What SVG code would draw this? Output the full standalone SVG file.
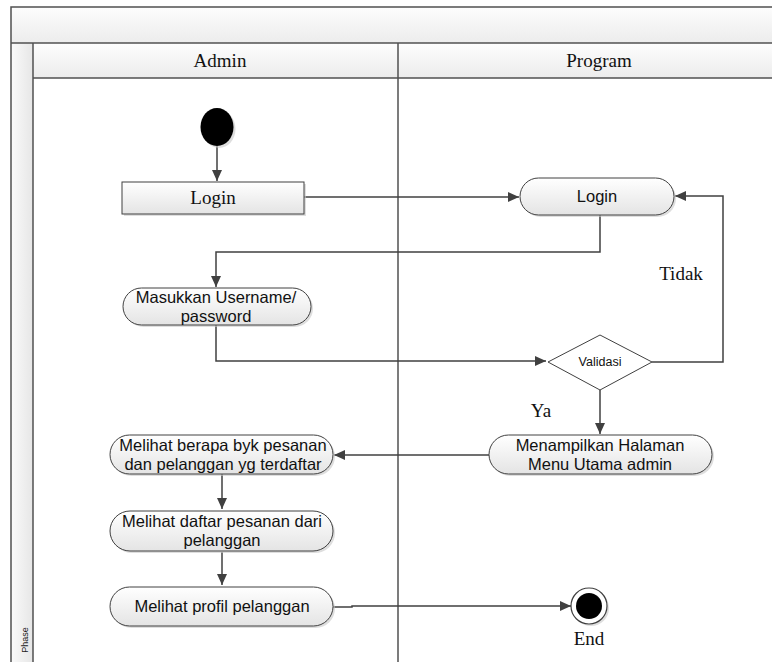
<svg xmlns="http://www.w3.org/2000/svg" width="772" height="662" viewBox="0 0 772 662">
<defs>
  <linearGradient id="gNode" x1="0" y1="0" x2="0" y2="1">
    <stop offset="0" stop-color="#ffffff"/>
    <stop offset="1" stop-color="#e4e4e4"/>
  </linearGradient>
  <linearGradient id="gBand" x1="0" y1="0" x2="0" y2="1">
    <stop offset="0" stop-color="#fdfdfd"/>
    <stop offset="1" stop-color="#ececec"/>
  </linearGradient>
  <linearGradient id="gPhase" x1="0" y1="0" x2="1" y2="0">
    <stop offset="0" stop-color="#fafafa"/>
    <stop offset="1" stop-color="#e6e6e6"/>
  </linearGradient>
  <marker id="arr" markerUnits="userSpaceOnUse" markerWidth="12" markerHeight="10" refX="11" refY="5" orient="auto">
    <path d="M0,0 L11,5 L0,10 Z" fill="#404040"/>
  </marker>
</defs>
<style>
  .frame { fill: none; stroke: #505050; stroke-width: 1.5; }
  .node { fill: url(#gNode); stroke: #404040; stroke-width: 1; }
  .shadow { fill: #c8c8c8; opacity: 0.6; }
  .conn { fill: none; stroke: #404040; stroke-width: 1.5; marker-end: url(#arr); }
  .connp { fill: none; stroke: #404040; stroke-width: 1.5; }
  .serif { font-family: "Liberation Serif", "Times New Roman", serif; font-size: 19px; fill: #111; text-anchor: middle; }
  .sans { font-family: "Liberation Sans", Arial, sans-serif; font-size: 16.5px; fill: #111; text-anchor: middle; }
</style>

<g id="swimlane">
  <rect x="11" y="7" width="770" height="36" fill="url(#gBand)"/>
  <rect x="33" y="43" width="750" height="35" fill="url(#gBand)"/>
  <rect x="11" y="43" width="22" height="630" fill="url(#gPhase)"/>
  <rect x="33" y="78" width="750" height="590" fill="#ffffff"/>
  <path class="frame" d="M772,7 L11,7 L11,662"/>
  <path class="frame" d="M11,43 L772,43"/>
  <path class="frame" d="M33,78 L772,78"/>
  <path class="frame" d="M33,43 L33,662"/>
  <path class="frame" d="M398,43 L398,662"/>
  <text class="serif" x="220" y="67">Admin</text>
  <text class="serif" x="599" y="67">Program</text>
  <text x="0" y="0" transform="translate(28,640) rotate(-90)" font-family="Liberation Sans, Arial, sans-serif" font-size="9" fill="#222" text-anchor="middle">Phase</text>
</g>

<g id="connectors">
  <path class="conn" d="M217,146 L217,181"/>
  <path class="conn" d="M304,197 L519,197"/>
  <path class="conn" d="M600,215 L600,252 L216,252 L216,287"/>
  <path class="conn" d="M216,325 L216,361 L546,361"/>
  <path class="conn" d="M652,362 L723,362 L723,196 L675,196"/>
  <path class="conn" d="M600,390 L600,434"/>
  <path class="conn" d="M489,455 L334,455"/>
  <path class="conn" d="M222,474 L222,509"/>
  <path class="conn" d="M222,552 L222,585"/>
  <path class="conn" d="M333,607 L352,607 L352,606 L571,606"/>
  <text class="serif" x="681" y="280">Tidak</text>
  <text class="serif" x="541" y="417">Ya</text>
</g>

<g id="start">
  <ellipse cx="219" cy="129" rx="16.5" ry="19" class="shadow"/>
  <ellipse cx="217" cy="127" rx="16.5" ry="19" fill="#000"/>
</g>

<g id="login-admin">
  <rect x="124" y="184" width="182" height="32" class="shadow"/>
  <rect x="122" y="182" width="182" height="32" class="node"/>
  <text class="serif" x="213" y="204">Login</text>
</g>

<g id="login-program">
  <rect x="522" y="180" width="154" height="37" rx="18.5" class="shadow"/>
  <rect x="520" y="178" width="154" height="37" rx="18.5" class="node"/>
  <text class="sans" x="597" y="202">Login</text>
</g>

<g id="masukkan">
  <rect x="125" y="290" width="188" height="37" rx="18.5" class="shadow"/>
  <rect x="123" y="288" width="188" height="37" rx="18.5" class="node"/>
  <text class="sans" x="216" y="303">Masukkan Username/</text>
  <text class="sans" x="216" y="322">password</text>
</g>

<g id="validasi">
  <path d="M548,362 L600,335 L652,362 L600,390 Z" fill="#ffffff" stroke="#404040" stroke-width="1"/>
  <text x="600" y="366" font-family="Liberation Sans, Arial, sans-serif" font-size="12.5" fill="#111" text-anchor="middle">Validasi</text>
</g>

<g id="menampilkan">
  <rect x="491" y="437" width="223" height="39" rx="19.5" class="shadow"/>
  <rect x="489" y="435" width="223" height="39" rx="19.5" class="node"/>
  <text class="sans" x="600" y="451">Menampilkan Halaman</text>
  <text class="sans" x="600" y="470">Menu Utama admin</text>
</g>

<g id="melihat-berapa">
  <rect x="112" y="437" width="223" height="39" rx="19.5" class="shadow"/>
  <rect x="110" y="435" width="223" height="39" rx="19.5" class="node"/>
  <text class="sans" x="223" y="451">Melihat berapa byk pesanan</text>
  <text class="sans" x="223" y="470">dan pelanggan yg terdaftar</text>
</g>

<g id="melihat-daftar">
  <rect x="112" y="513" width="223" height="40" rx="20" class="shadow"/>
  <rect x="110" y="511" width="223" height="40" rx="20" class="node"/>
  <text class="sans" x="222" y="527">Melihat daftar pesanan dari</text>
  <text class="sans" x="222" y="546">pelanggan</text>
</g>

<g id="melihat-profil">
  <rect x="112" y="589" width="223" height="39" rx="19.5" class="shadow"/>
  <rect x="110" y="587" width="223" height="39" rx="19.5" class="node"/>
  <text class="sans" x="222" y="612">Melihat profil pelanggan</text>
</g>

<g id="end">
  <circle cx="591" cy="608" r="18" class="shadow"/>
  <circle cx="589" cy="606" r="18" fill="#ffffff" stroke="#404040" stroke-width="1.2"/>
  <circle cx="589" cy="606" r="13" fill="#000"/>
  <text class="serif" x="589" y="645">End</text>
</g>
</svg>
